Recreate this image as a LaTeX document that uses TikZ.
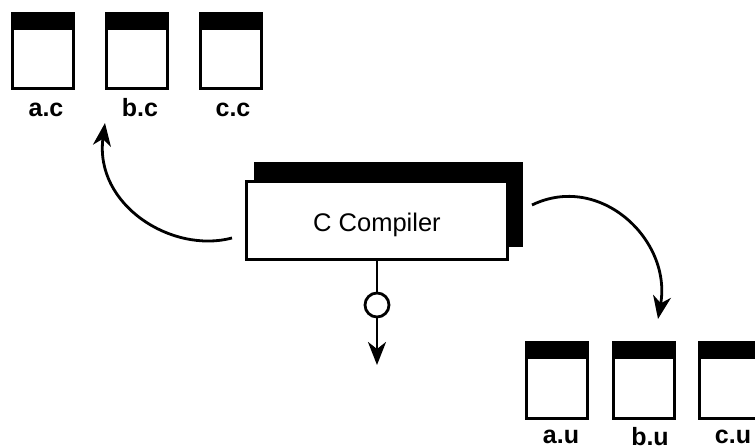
\documentclass[tikz,border=0pt]{standalone}
\usepackage{fontspec}
\setmainfont{Liberation Sans}
\usetikzlibrary{arrows.meta}

\tikzset{
    filebody/.style={draw=black,fill=white,line width=3pt,minimum width=61pt,minimum height=75pt,inner sep=0pt},
    filebar/.style={fill=black,minimum width=64pt,minimum height=18pt,inner sep=0pt},
    filename/.style={font=\fontsize{25}{25}\selectfont\bfseries,inner sep=0pt,text depth=0pt,anchor=base},
    flow/.style={draw=black,line width=2.8pt,-{Stealth[length=23pt,width=18pt,inset=7pt]}},
}

\begin{document}
\begin{tikzpicture}[x=1pt,y=-1pt]
    \useasboundingbox (0, 0) rectangle (755, 446);

    \begin{scope}
        \node[filebody] (C_1) at (43, 51) {};
        \node[filebody] (C_2) at (137, 51) {};
        \node[filebody] (C_3) at (231, 51) {};
        \node[filebar] (D_1) at (43, 21) {};
        \node[filebar] (D_2) at (137, 21) {};
        \node[filebar] (D_3) at (231, 21) {};
        \node[filename] (E_1) at (46, 117) {a.c};
        \node[filename] (E_2) at (140, 117) {b.c};
        \node[filename] (E_3) at (233, 117) {c.c};
    \end{scope}

    \begin{scope}
        \node[filebody] (U_1) at (557, 381) {};
        \node[filebody] (U_2) at (644, 381) {};
        \node[filebody] (U_3) at (730, 381) {};
        \node[filebar] (V_1) at (557, 350) {};
        \node[filebar] (V_2) at (644, 350) {};
        \node[filebar] (V_3) at (730, 350) {};
        \node[filename] (W_1) at (561, 443) {a.u};
        \node[filename] (W_2) at (650, 445) {b.u};
        \node[filename] (W_3) at (733, 443) {c.u};
    \end{scope}

    \begin{scope}
        \node[fill=black,minimum width=269pt,minimum height=85pt] (shadow) at (388.5, 204.5) {};
        \node[draw=black,fill=white,line width=3pt,minimum width=261pt,minimum height=78pt,font=\fontsize{25.5}{25.5}\selectfont,text height=22pt,text depth=0pt] (compiler) at (377, 221) {C Compiler};
        \node[draw=black,fill=white,circle,line width=2.8pt,minimum size=24pt,inner sep=0pt] (probe) at (377, 305) {};
    \end{scope}

    \begin{scope}
        \coordinate (left_out) at (232, 238);
        \coordinate (left_in) at (105, 123);
        \coordinate (right_out) at (532, 205);
        \coordinate (right_in) at (658, 319);
        \coordinate (down_in) at (377, 365);
        \path[flow] (left_out) .. controls (172, 254) and (94, 205) .. (left_in);
        \path[flow] (right_out) .. controls (600, 172) and (672, 240) .. (right_in);
        \draw[line width=2.8pt] (compiler) -- (probe);
        \path[flow] (probe) -- (down_in);
    \end{scope}
\end{tikzpicture}
\end{document}
